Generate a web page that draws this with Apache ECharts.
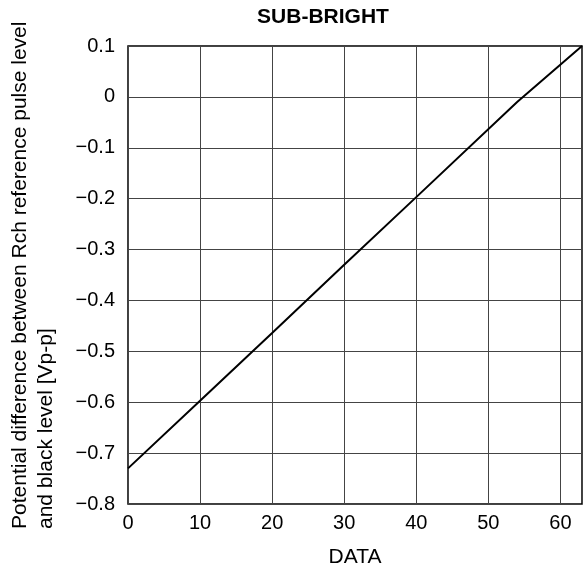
<!DOCTYPE html>
<html>
<head>
<meta charset="utf-8">
<script src="https://cdn.jsdelivr.net/npm/echarts@6/dist/echarts.min.js"></script>
<style>
  html, body { margin: 0; padding: 0; background: #fff; }
  #chart { width: 586px; height: 569px; }
</style>
</head>
<body>
<div id="chart"></div>
<script>
// values
const dataX = [0, 10, 20, 30, 40, 54, 63]
const dataY = [-0.73, -0.597, -0.464, -0.33, -0.197, -0.01, 0.1]
const yTicks = [0.1, 0, -0.1, -0.2, -0.3, -0.4, -0.5, -0.6, -0.7, -0.8]

const titleText = 'SUB-BRIGHT'
const xName = 'DATA'
const yName = 'Potential difference between Rch reference pulse level\nand black level [Vp-p]'

const font = 'Liberation Sans, Arial, sans-serif'
const chart = echarts.init(document.getElementById('chart'))

function fmtY(v) {
  const r = Math.round(v * 10) / 10
  if (r === 0) return '0'
  return (r < 0 ? '\u2212' : '') + Math.abs(r).toFixed(1)
}

const option = {
  animation: false,
  title: {
    text: titleText,
    left: 318,
    top: 2,
    textAlign: 'center',
    textStyle: { fontFamily: font, fontSize: 21, fontWeight: 'bold', color: '#000' }
  },
  grid: {
    left: 128, right: 4, top: 46, bottom: 65,
    outerBoundsMode: 'none',
    show: true, borderColor: '#000', borderWidth: 1.5
  },
  xAxis: {
    type: 'value',
    min: 0, max: 63, interval: 10,
    name: xName,
    nameLocation: 'middle',
    nameGap: 43,
    nameTextStyle: { fontFamily: font, fontSize: 21, color: '#000' },
    axisLine: { show: false },
    axisTick: { show: false },
    axisLabel: { fontFamily: font, fontSize: 20, color: '#000', margin: 9, showMaxLabel: false },
    splitLine: { show: true, lineStyle: { color: '#444', width: 1 } }
  },
  yAxis: {
    type: 'value',
    min: -0.8, max: 0.1, interval: 0.1,
    axisLine: { show: false },
    axisTick: { show: false },
    axisLabel: {
      fontFamily: font, fontSize: 20, color: '#000', margin: 13,
      formatter: v => fmtY(v)
    },
    splitLine: { show: true, lineStyle: { color: '#444', width: 1 } }
  },
  graphic: [{
    type: 'text',
    x: 7, y: 529,
    rotation: Math.PI / 2,
    style: {
      text: yName,
      fontFamily: font, fontSize: 21, lineHeight: 26,
      fill: '#000',
      align: 'left', verticalAlign: 'top'
    }
  }],
  series: [{
    type: 'line',
    data: dataX.map((x, i) => [x, dataY[i]]),
    showSymbol: false,
    lineStyle: { color: '#000', width: 2 }
  }]
}

chart.setOption(option)
</script>
</body>
</html>
